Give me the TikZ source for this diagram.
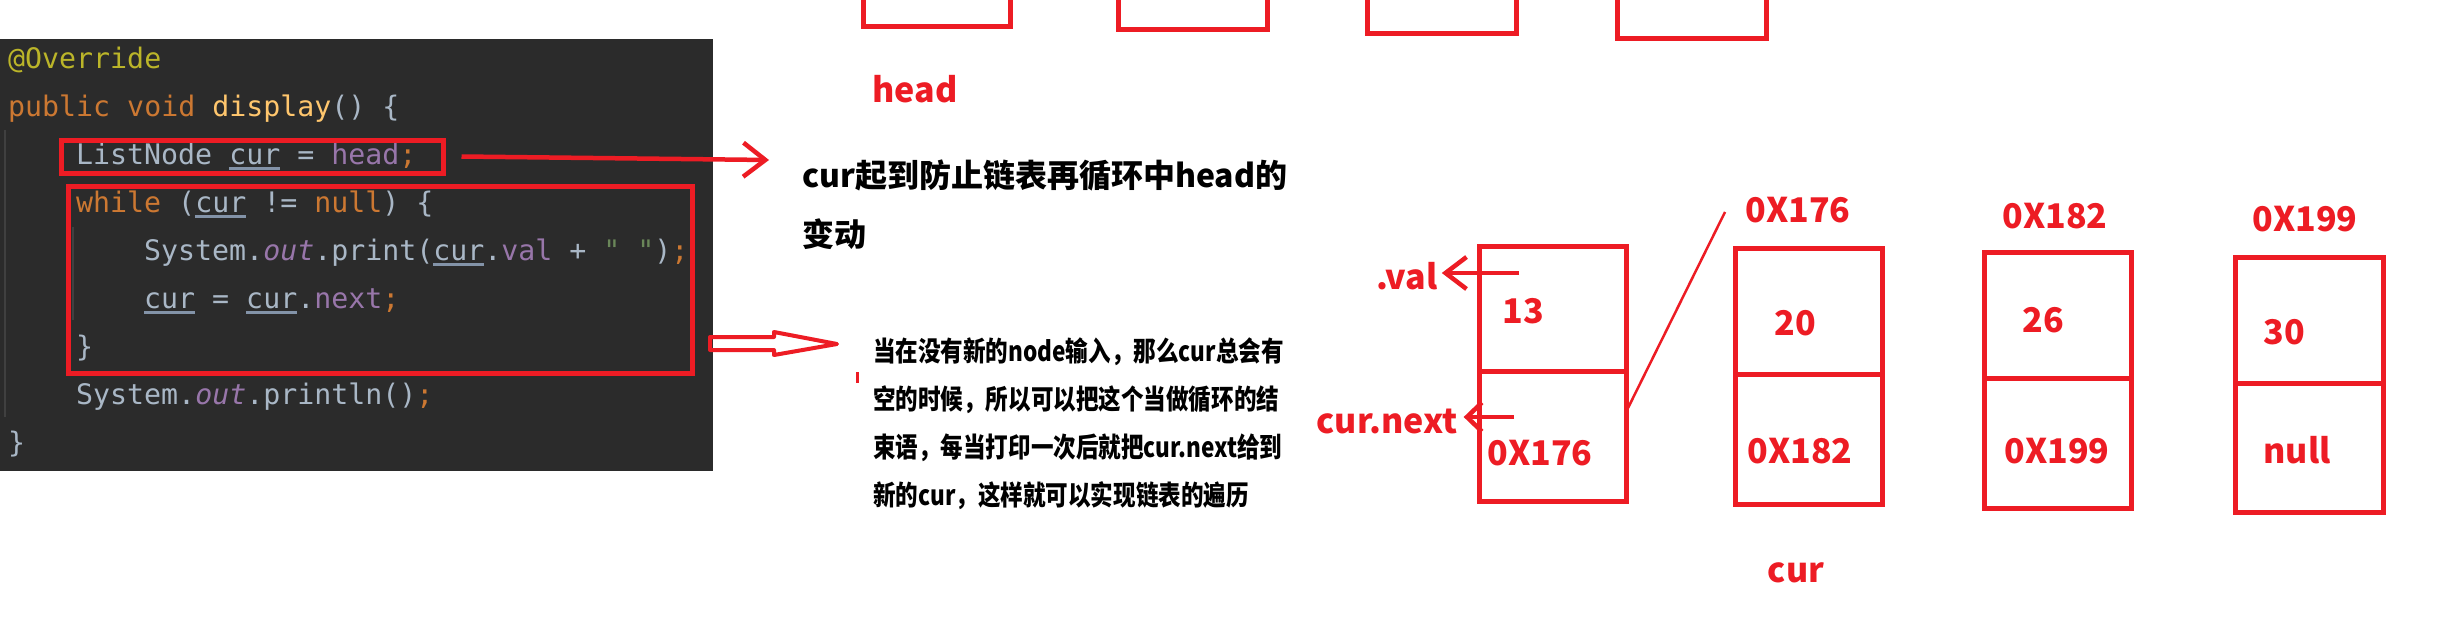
\documentclass[tikz,border=0pt]{standalone}
\usepackage{fontspec}
\setmonofont{DejaVu Sans Mono}
\newfontfamily\cjk{Noto Sans CJK SC}
\newfontfamily\cjkn{Noto Sans CJK SC}[FakeStretch=0.82]
\usetikzlibrary{arrows.meta}
\definecolor{pred}{HTML}{ED1C24}
\definecolor{codebg}{HTML}{2B2B2B}
\definecolor{cdef}{HTML}{A9B7C6}
\definecolor{ckw}{HTML}{CC7832}
\definecolor{cann}{HTML}{BBB529}
\definecolor{cfun}{HTML}{FFC66D}
\definecolor{cfield}{HTML}{9876AA}
\definecolor{cstr}{HTML}{6A8759}
\definecolor{cul}{HTML}{8393A8}
\definecolor{cguide}{HTML}{404040}
\newcommand\ulcur{\setbox0\hbox{cur}\rlap{\textcolor{cul}{\rule[-5.7pt]{\wd0}{2.5pt}}}\box0}
\tikzset{
  code/.style={anchor=base west, inner sep=0pt, text=cdef, font=\ttfamily\fontsize{28.25}{30}\selectfont},
  pline/.style={draw=pred, line width=4.5pt},
  redbox/.style={draw=pred, line width=5pt, inner sep=0pt},
  cellbox/.style={draw=pred, line width=5pt, inner sep=0pt, minimum width=147pt},
  lbl/.style={inner sep=0pt, text=pred, font=\cjk\bfseries\fontsize{34}{40}\selectfont},
  bigtxt/.style={anchor=base west, inner sep=0pt, text=black, font=\cjk\bfseries\fontsize{32}{40}\selectfont},
  smtxt/.style={anchor=base west, inner sep=0pt, text=black, font=\cjkn\bfseries\fontsize{27.5}{34}\selectfont},
}
\begin{document}
\begin{tikzpicture}[x=1pt,y=-1pt]
\useasboundingbox (0,0) rectangle (2443,634);
\fill[white] (0,0) rectangle (2443,634);

% code panel
\fill[codebg] (0,39) rectangle (713,471);
\draw[cguide, line width=1.5pt] (5,130) -- (5,417);
\draw[cguide, line width=1.5pt] (73,227) -- (73,320);

\node[code] (l1) at (8,68) {\textcolor{cann}{@Override}};
\node[code] (l2) at (8,116) {\textcolor{ckw}{public void} \textcolor{cfun}{display}() \{};
\node[code] (l3) at (76,164) {ListNode \ulcur{} = \textcolor{cfield}{head}\textcolor{ckw}{;}};
\node[code] (l4) at (76,212) {\textcolor{ckw}{while} (\ulcur{} != \textcolor{ckw}{null}) \{};
\node[code] (l5) at (144,260) {System.\textcolor{cfield}{\itshape out}.print(\ulcur.\textcolor{cfield}{val} + \textcolor{cstr}{"\ "})\textcolor{ckw}{;}};
\node[code] (l6) at (144,308) {\ulcur{} = \ulcur.\textcolor{cfield}{next}\textcolor{ckw}{;}};
\node[code] (l7) at (76,356) {\}};
\node[code] (l8) at (76,404) {System.\textcolor{cfield}{\itshape out}.println()\textcolor{ckw}{;}};
\node[code] (l9) at (8,452) {\}};

% red frames in code
\node[redbox, minimum width=382pt, minimum height=33pt] (r1) at (252,156.5) {};
\node[redbox, minimum width=624pt, minimum height=187pt] (r2) at (380,280) {};

% arrow 1
\coordinate (a1s) at ([xshift=16pt]r1.east);
\coordinate (a1e) at (769,160);
\draw[pline, -{Straight Barb[length=22pt,width=34pt]}] (a1s) -- (a1e);

% hollow arrow
\draw[draw=pred, line width=4pt, line join=round] (710,337) -- (774,337) -- (774,332) -- (837,344) -- (774,355) -- (774,350) -- (710,350) -- cycle;
\draw[draw=pred, line width=3pt] (857,372) -- (857,383);

% explanation texts
\node[bigtxt] (t1a) at (802,187) {cur起到防止链表再循环中head的};
\node[bigtxt] (t1b) at (802,246) {变动};
\node[smtxt] (t2a) at (873,361) {当在没有新的node输入，那么cur总会有};
\node[smtxt] (t2b) at (873,409) {空的时候，所以可以把这个当做循环的结};
\node[smtxt] (t2c) at (873,457) {束语，每当打印一次后就把cur.next给到};
\node[smtxt] (t2d) at (873,505) {新的cur，这样就可以实现链表的遍历};

% top boxes (cut off)
\draw[pline, line width=5pt] (863,-10) |- (1010,27) -- (1010,-10);
\draw[pline, line width=5pt] (1118,-10) |- (1267,29.5) -- (1267,-10);
\draw[pline, line width=5pt] (1367,-10) |- (1516,33.5) -- (1516,-10);
\draw[pline, line width=5pt] (1617,-10) |- (1766,38.5) -- (1766,-10);
\node[lbl] (head) at (915,89.5) {head};

% linked list boxes
\node[cellbox, minimum height=125pt] (b1t) at (1552.5,308.5) {};
\node[cellbox, minimum height=130.5pt] (b1b) at (1552.5,436.25) {};
\node[cellbox, minimum height=126pt] (b2t) at (1809,311) {};
\node[cellbox, minimum height=130pt] (b2b) at (1809,439) {};
\node[cellbox, minimum height=126pt] (b3t) at (2058,315) {};
\node[cellbox, minimum height=130pt] (b3b) at (2058,443) {};
\node[cellbox, minimum height=126pt, minimum width=148pt] (b4t) at (2309,320) {};
\node[cellbox, minimum height=129pt, minimum width=148pt] (b4b) at (2309,447.5) {};

\node[lbl] (v1) at (1523,311) {13};
\node[lbl] (n1) at (1540,453) {0X176};
\node[lbl] (v2) at (1795,323) {20};
\node[lbl] (n2) at (1800,451) {0X182};
\node[lbl] (v3) at (2043,320) {26};
\node[lbl] (n3) at (2057,451) {0X199};
\node[lbl] (v4) at (2284,332) {30};
\node[lbl] (n4) at (2297,450) {null};

\node[lbl] (ad2) at (1798,210) {0X176};
\node[lbl] (ad3) at (2055,216) {0X182};
\node[lbl] (ad4) at (2305,219) {0X199};
\node[lbl] (curlbl) at (1796,573) {cur};
\node[lbl] (val) at (1407,276) {.val};
\node[lbl] (nxt) at (1387,421) {cur.next};

% pointer arrows
\coordinate (vs) at (1519,273);
\coordinate (ns) at (1514,417);
\draw[pline, -{Straight Barb[length=21pt,width=32pt]}] (vs) -- ([xshift=4pt]val.east |- vs);
\draw[pline, -{Straight Barb[length=15pt,width=29pt]}] (ns) -- ([xshift=6pt]nxt.east |- ns);

% slanted line
\coordinate (sl1) at (1628,408);
\coordinate (sl2) at (1725,212);
\draw[draw=pred, line width=2.5pt] (sl1) -- (sl2);
\end{tikzpicture}
\end{document}
